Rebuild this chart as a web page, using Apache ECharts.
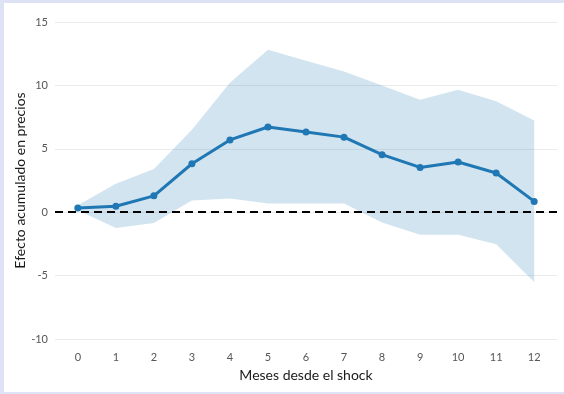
<!DOCTYPE html>
<html>
<head>
<meta charset="utf-8">
<script src="https://cdn.jsdelivr.net/npm/echarts@6/dist/echarts.min.js"></script>
<style>
  html, body { margin: 0; padding: 0; }
  body { width: 564px; height: 394px; background: #dde2f4; position: relative; overflow: hidden; }
  #chart { position: absolute; left: 4px; top: 3px; width: 560px; height: 389px; background: #ffffff; }
</style>
</head>
<body>
<div id="chart"></div>
<script>
// Months after the shock
const months = [0, 1, 2, 3, 4, 5, 6, 7, 8, 9, 10, 11, 12];
// Cumulative effect on prices (point estimate)
const effect = [0.34, 0.47, 1.29, 3.82, 5.70, 6.72, 6.33, 5.92, 4.54, 3.53, 3.96, 3.09, 0.85];
// Confidence band bounds
const upper = [0.55, 2.25, 3.40, 6.50, 10.20, 12.82, 11.95, 11.10, 10.00, 8.86, 9.65, 8.75, 7.23];
const lower = [0.15, -1.24, -0.86, 0.92, 1.08, 0.69, 0.69, 0.69, -0.82, -1.77, -1.77, -2.53, -5.51];
// Axis ticks
const yTicks = [-10, -5, 0, 5, 10, 15];

const fontFamily = 'Lato, "Open Sans", sans-serif';
const blue = '#1f77b4';

const chart = echarts.init(document.getElementById('chart'), null, { renderer: 'canvas' });

// Band polygon: upper bound left to right, then lower bound right to left
function renderBand(params, api) {
  const pts = [];
  for (let i = 0; i < months.length; i++) pts.push(api.coord([months[i], upper[i]]));
  for (let i = months.length - 1; i >= 0; i--) pts.push(api.coord([months[i], lower[i]]));
  return {
    type: 'polygon',
    shape: { points: pts },
    style: { fill: 'rgba(31,119,180,0.2)' },
    silent: true
  };
}

chart.setOption({
  animation: false,
  textStyle: { fontFamily: fontFamily },
  grid: { left: 51, right: 7, top: 19, bottom: 53, outerBoundsMode: 'none', containLabel: false },
  xAxis: {
    type: 'value',
    min: -0.6,
    max: 12.6,
    name: 'Meses desde el shock',
    nameLocation: 'middle',
    nameGap: 29,
    nameMoveOverlap: false,
    nameTextStyle: { color: '#1a1a1a', fontSize: 14, fontFamily: fontFamily },
    axisLine: { show: false },
    axisTick: { show: false, customValues: months },
    splitLine: { show: false },
    axisLabel: {
      customValues: months,
      color: '#555555',
      fontSize: 11,
      margin: 13,
      fontFamily: fontFamily
    }
  },
  yAxis: {
    type: 'value',
    min: yTicks[0],
    max: yTicks[yTicks.length - 1],
    interval: 5,
    name: 'Efecto acumulado en precios',
    nameLocation: 'middle',
    nameGap: 28,
    nameMoveOverlap: false,
    nameTextStyle: { color: '#1a1a1a', fontSize: 14, fontFamily: fontFamily },
    axisLine: { show: false },
    axisTick: { show: false },
    splitLine: { show: true, lineStyle: { color: '#ebebeb', width: 1 } },
    axisLabel: { color: '#555555', fontSize: 11, margin: 7, fontFamily: fontFamily }
  },
  series: [
    {
      name: 'band',
      type: 'custom',
      renderItem: renderBand,
      data: [0],
      silent: true,
      z: 1
    },
    {
      name: 'effect',
      type: 'line',
      data: months.map((m, i) => [m, effect[i]]),
      lineStyle: { color: blue, width: 3 },
      itemStyle: { color: blue },
      symbol: 'circle',
      symbolSize: 7,
      z: 5,
      markLine: {
        silent: true,
        symbol: 'none',
        label: { show: false },
        lineStyle: { color: '#000000', width: 2, type: [8, 5] },
        data: [{ yAxis: 0 }]
      }
    }
  ]
});
</script>
</body>
</html>
